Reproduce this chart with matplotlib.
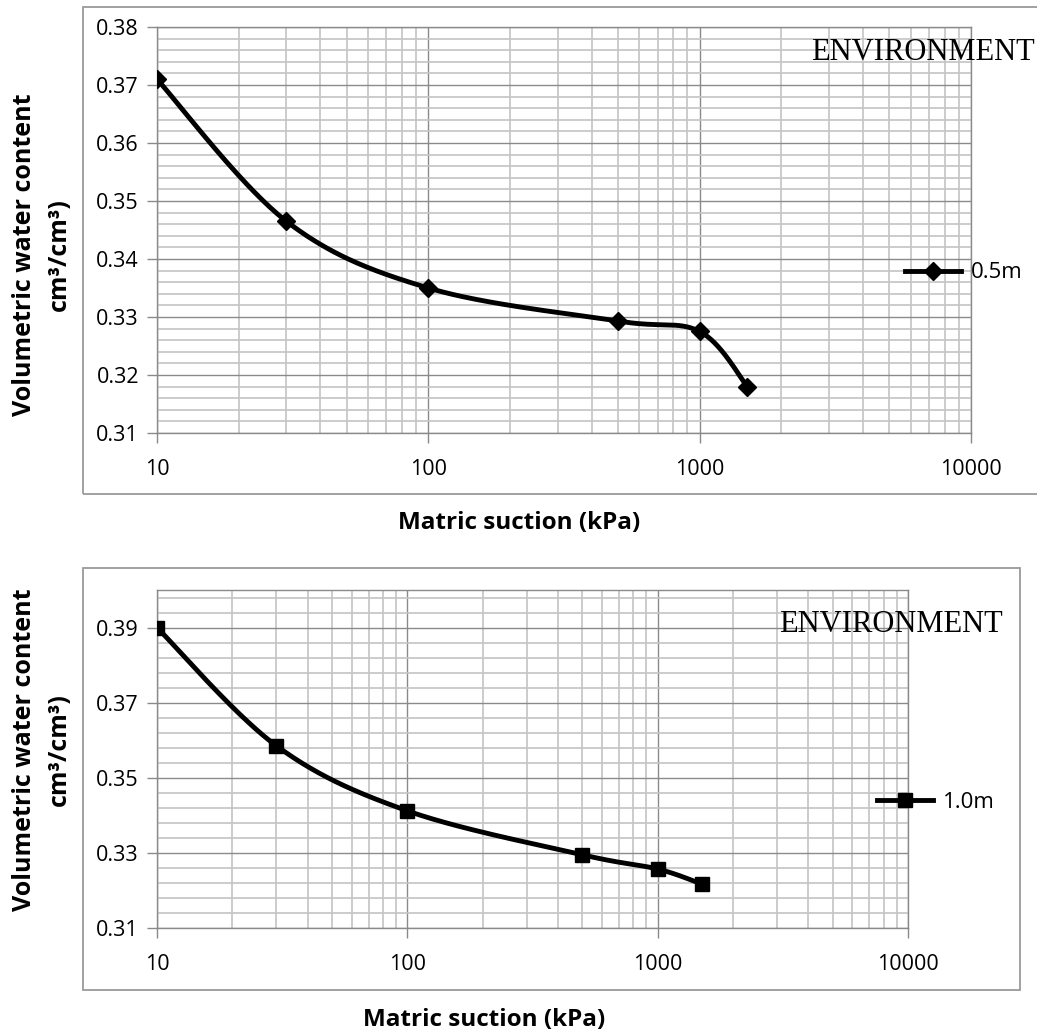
import numpy as np
import matplotlib
matplotlib.use("Agg")
import matplotlib.pyplot as plt
from matplotlib.lines import Line2D
from matplotlib.patches import Rectangle
from matplotlib.ticker import FixedLocator, FuncFormatter, NullFormatter

plt.rcParams['font.family'] = ['Open Sans', 'DejaVu Sans']

# soil water characteristic curves, two sampling depths
suction = [10, 30, 100, 500, 1000, 1500]          # kPa
theta_05 = [0.371, 0.3465, 0.335, 0.3293, 0.3275, 0.318]
theta_10 = [0.390, 0.3585, 0.3412, 0.3295, 0.3257, 0.3217]
depth_labels = ['0.5m', '1.0m']

x_ticks = [10, 100, 1000, 10000]
y_ticks_05 = [0.31, 0.32, 0.33, 0.34, 0.35, 0.36, 0.37, 0.38]
y_ticks_10 = [0.31, 0.33, 0.35, 0.37, 0.39]

W, H = 1037, 1033
MAJOR_GRID = '#8a8a8a'
MINOR_GRID = '#c4c4c4'


def px(x, y):
    "pixel position (from top left) -> figure fraction"
    return x / W, 1 - y / H


def smooth(xs, ys, n=60):
    """
    Smoothed line like a spreadsheet 'smoothed line' series:
    cubic Bezier pieces through every point, built in log-x space.
    """
    pts = np.column_stack([np.log10(xs), np.asarray(ys, float)])
    p = np.vstack([pts[0], pts, pts[-1]])
    t = np.linspace(0, 1, n)[:, None]
    segs = []
    for i in range(1, len(p) - 2):
        p0, p1, p2, p3 = p[i - 1], p[i], p[i + 1], p[i + 2]
        c1 = p1 + (p2 - p0) / 6
        c2 = p2 - (p3 - p1) / 6
        segs.append((1 - t) ** 3 * p1 + 3 * (1 - t) ** 2 * t * c1
                    + 3 * (1 - t) * t ** 2 * c2 + t ** 3 * p2)
    c = np.vstack(segs)
    return 10 ** c[:, 0], c[:, 1]


def draw_panel(ax, y, label, marker, ms, yticks, ylim, ystep, legend_xy):
    ax.set_xscale('log')
    ax.set_xlim(10, 10000)
    ax.set_ylim(*ylim)

    ax.xaxis.set_major_locator(FixedLocator(x_ticks))
    ax.xaxis.set_major_formatter(FuncFormatter(lambda v, _: '%d' % v))
    xminor = [m * 10 ** k for k in range(1, 4) for m in range(2, 10)]
    ax.xaxis.set_minor_locator(FixedLocator(xminor))
    ax.xaxis.set_minor_formatter(NullFormatter())

    ax.yaxis.set_major_locator(FixedLocator(yticks))
    ax.yaxis.set_major_formatter(FuncFormatter(lambda v, _: '%.2f' % v))
    yminor = [v for v in np.round(np.arange(ylim[0], ylim[1], ystep), 4)
              if all(abs(v - t) > 1e-6 for t in yticks)]
    ax.yaxis.set_minor_locator(FixedLocator(yminor))

    ax.set_axisbelow(True)
    ax.grid(which='minor', color=MINOR_GRID, lw=1.2)
    ax.grid(which='major', color=MAJOR_GRID, lw=1.0)
    ax.tick_params(which='major', direction='out', length=7, width=1,
                   color=MAJOR_GRID, labelsize=15.5, labelcolor='black')
    ax.tick_params(axis='x', which='major', pad=12)
    ax.tick_params(axis='y', which='major', pad=6)
    ax.tick_params(which='minor', length=0)
    for s in ax.spines.values():
        s.set_color(MAJOR_GRID)
        s.set_linewidth(1.0)

    cx, cy = smooth(suction, y)
    ax.plot(cx, cy, color='black', lw=3.5, solid_capstyle='round', zorder=3)
    ax.plot(suction, y, ls='none', marker=marker, ms=ms, color='black',
            mec='black', mew=1, zorder=4)

    handle = Line2D([], [], color='black', lw=3.5, marker=marker, ms=ms, mew=1)
    ax.legend([handle], [label], loc='center left',
              bbox_to_anchor=px(*legend_xy), bbox_transform=ax.figure.transFigure,
              frameon=False, borderpad=0, borderaxespad=0, handlelength=2.5,
              handletextpad=0.45, fontsize=16, numpoints=1)


fig = plt.figure(figsize=(W / 100, H / 100), dpi=100)

# chart frames
fig.add_artist(Rectangle(px(83, 494), (1045 - 83) / W, (494 - 7) / H,
                         transform=fig.transFigure, fill=False,
                         ec='#9a9a9a', lw=1.3))
fig.add_artist(Rectangle(px(83, 990), (1020 - 83) / W, (990 - 568) / H,
                         transform=fig.transFigure, fill=False,
                         ec='#9a9a9a', lw=1.3))

ax1 = fig.add_axes([157 / W, 1 - 433 / H, (971 - 157) / W, (433 - 27) / H])
draw_panel(ax1, theta_05, depth_labels[0], 'D', 9.5, y_ticks_05,
           (0.31, 0.38), 0.002, (905, 273))

ax2 = fig.add_axes([157 / W, 1 - 928 / H, (908 - 157) / W, (928 - 590) / H])
draw_panel(ax2, theta_10, depth_labels[1], 's', 10, y_ticks_10,
           (0.31, 0.40), 0.004, (877, 802))

for (tx, ty) in [(1035, 60), (1003, 632)]:
    fig.text(*px(tx, ty), 'ENVIRONMENT', ha='right', va='baseline',
             family='Liberation Serif', size=22, color='black')

ylabel = 'Volumetric water content\ncm\u00b3/cm\u00b3)'
for (tx, ty) in [(42, 255), (42, 750)]:
    fig.text(*px(tx, ty), ylabel, rotation=90, ha='center', va='center',
             multialignment='center', fontweight='bold', size=18,
             linespacing=1.5)

for (tx, ty) in [(519, 523), (484, 1020)]:
    fig.text(*px(tx, ty), 'Matric suction (kPa)', ha='center', va='center',
             fontweight='bold', size=17.5)

fig.savefig('out.png', dpi=100, facecolor='white')
